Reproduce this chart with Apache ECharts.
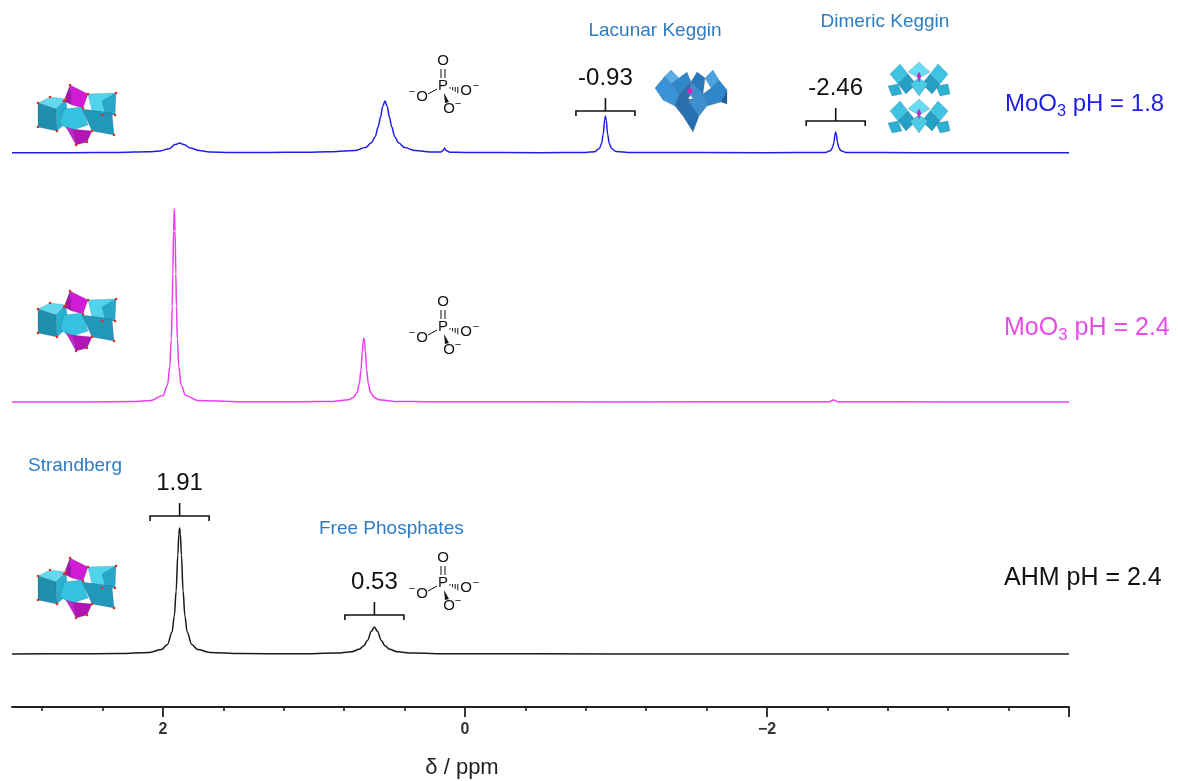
<!DOCTYPE html>
<html lang="en">
<head>
<meta charset="UTF-8">
<title>31P NMR</title>
<script src="https://cdn.jsdelivr.net/npm/echarts@6/dist/echarts.min.js"></script>
<style>html,body{margin:0;padding:0;background:#fff;}</style>
</head>
<body>
<div id="nmr" style="width:1178px;height:781px;"></div>
<script type="text/javascript">

// MoO3 pH 1.8 (top trace) : shift / intensity
var moo18Ppm = [3.0, 2.6, 2.3, 2.1, 2.02, 1.96, 1.92, 1.89, 1.86, 1.82, 1.76, 1.69, 1.55, 1.3, 1.05,
    0.9, 0.8, 0.73, 0.66, 0.62, 0.595, 0.575, 0.56, 0.545, 0.53, 0.515, 0.5, 0.485, 0.465, 0.44, 0.4, 0.33, 0.23,
    0.16, 0.145, 0.135, 0.125, 0.1, 0.0, -0.5,
    -0.8, -0.86, -0.89, -0.905, -0.915, -0.925, -0.93, -0.935, -0.945, -0.955, -0.97, -1.0, -1.1,
    -2.0, -2.385, -2.42, -2.435, -2.443, -2.451, -2.455, -2.459, -2.467, -2.475, -2.49, -2.525, -3.0, -4.0];
var moo18Int = [0.2, 0.3, 0.6, 1.2, 2.0, 4.2, 8.4, 10, 8.4, 5, 2.5, 1.1, 0.6, 0.6, 0.8,
    1.2, 1.9, 2.4, 5.4, 10.2, 16.3, 26, 35.5, 46.6, 52, 46.6, 35.5, 26, 16.3, 10.2, 5.4, 2.4, 1.1,
    0.9, 2.5, 5, 2.5, 0.8, 0.5, 0.3,
    0.6, 1.3, 4.5, 9.8, 18.5, 33, 37, 33, 18.5, 9.8, 4.5, 1.6, 0.5,
    0.3, 0.6, 2.2, 5.6, 10.5, 19, 21, 19, 10.5, 5.6, 2.2, 0.6, 0.3, 0.2];

// MoO3 pH 2.4 (middle trace)
var moo24Ppm = [3.0, 2.5, 2.2, 2.08, 2.0, 1.97, 1.955, 1.945, 1.939, 1.935, 1.93, 1.925, 1.92, 1.915, 1.911,
    1.905, 1.895, 1.88, 1.85, 1.77, 1.5, 1.1, 0.87, 0.77, 0.74, 0.715, 0.7, 0.689, 0.68, 0.675, 0.67, 0.665,
    0.66, 0.651, 0.64, 0.625, 0.6, 0.57, 0.47, 0.2, -1.0, -2.41, -2.44, -2.47, -3.2, -4.0];
var moo24Int = [0, 0.1, 0.5, 1.6, 6.5, 17, 35, 63, 96, 128, 171, 193, 171, 128, 96,
    63, 35, 17, 6.5, 1.6, 0.3, 0.3, 0.6, 2.2, 4.4, 9.3, 18, 32, 50, 60, 64, 60,
    50, 32, 18, 9.3, 4.4, 2.2, 0.6, 0.2, 0.1, 0.2, 2.0, 0.2, 0.1, 0];

// AHM pH 2.4 (bottom trace)
var ahmPpm = [3.0, 2.6, 2.29, 2.09, 2.01, 1.97, 1.94, 1.925, 1.913, 1.902, 1.895, 1.89, 1.885, 1.878, 1.867,
    1.855, 1.84, 1.81, 1.77, 1.69, 1.49, 1.1, 0.85, 0.75, 0.70, 0.67, 0.646, 0.62, 0.60, 0.58, 0.554, 0.53,
    0.50, 0.45, 0.35, 0.1, -1.0, -4.0];
var ahmInt = [0.1, 0.2, 0.4, 1.6, 4.5, 9.6, 22, 38, 63, 99, 120, 126, 120, 99, 63,
    38, 22, 9.6, 4.5, 1.6, 0.4, 0.3, 0.9, 2.3, 4.7, 8.2, 13.5, 22.7, 27, 22.7, 13.5, 8.2,
    4.7, 2.3, 0.9, 0.2, 0.1, 0];

var traceNames = ['MoO3 pH = 1.8', 'MoO3 pH = 2.4', 'AHM pH = 2.4'];
var traceColors = ['#1e1ee8', '#f03cf0', '#1a1a1a'];
var traceOffsets = [554, 305, 53];

var majorTicks = [-4, -2, 0, 2];
var minorTicks = [-3.6, -3.2, -2.8, -2.4, -1.6, -1.2, -0.8, -0.4, 0.4, 0.8, 1.2, 1.6, 2.4, 2.8];
var tickLabels = [-2, 0, 2];

// peak brackets
var bracketPpm = [1.89, 0.60, -0.93, -2.455];
var bracketText = ['1.91', '0.53', '-0.93', '-2.46'];
var bracketLevel = [191, 92, 596, 586];

var annoColor = '#2e7cc2';
var fontSans = '"Liberation Sans", Arial, sans-serif';

function pairs(ppm, inten, off) {
    var out = [];
    for (var i = 0; i < ppm.length; i++) {
        out.push([ppm[i], inten[i] + off]);
    }
    return out;
}

var traces = [pairs(moo18Ppm, moo18Int, traceOffsets[0]),
              pairs(moo24Ppm, moo24Int, traceOffsets[1]),
              pairs(ahmPpm, ahmInt, traceOffsets[2])];

var chart = echarts.init(document.getElementById('nmr'));

var series = [];
for (var s = 0; s < traces.length; s++) {
    series.push({
        name: traceNames[s],
        type: 'line',
        data: traces[s],
        showSymbol: false,
        smooth: 0.35,
        smoothMonotone: 'x',
        silent: true,
        animation: false,
        lineStyle: { color: traceColors[s], width: 1.5 }
    });
}

chart.setOption({
    animation: false,
    grid: { left: 12, right: 109, top: 7, bottom: 74 },
    xAxis: [{
        type: 'value', min: -4, max: 3, inverse: true, position: 'bottom',
        axisLine: { lineStyle: { color: '#222', width: 1.8 } },
        axisTick: { length: 10, customValues: majorTicks, lineStyle: { color: '#222', width: 1.8 } },
        axisLabel: {
            customValues: tickLabels, margin: 15, color: '#333',
            fontSize: 16, fontWeight: 'bold', fontFamily: '"Liberation Sans Narrow", "Liberation Sans", sans-serif',
            formatter: function (v) { return v < 0 ? '\u2212' + Math.abs(v) : String(v); }
        },
        splitLine: { show: false }
    }, {
        type: 'value', min: -4, max: 3, inverse: true, position: 'bottom',
        axisLine: { show: false },
        axisTick: { length: 4, customValues: minorTicks, lineStyle: { color: '#222', width: 1.6 } },
        axisLabel: { show: false },
        splitLine: { show: false }
    }],
    yAxis: { type: 'value', min: 0, max: 700, show: false },
    series: series
});

// ---- decorations ----
var measureCtx = document.createElement('canvas').getContext('2d');
function textW(str, size) {
    measureCtx.font = size + 'px "Liberation Sans"';
    return measureCtx.measureText(str).width;
}

function txt(str, x, y, size, color, align) {
    return {
        type: 'text', x: x, y: y, silent: true,
        style: { text: str, fill: color, fontSize: size, fontFamily: fontSans,
                 align: align || 'center', verticalAlign: 'middle' }
    };
}

// label with MoO3 subscript
function moLabel(rest, x, y, color, size) {
    var w1 = textW('MoO', size);
    var w2 = textW('3', size * 0.68);
    return { type: 'group', silent: true, children: [
        txt('MoO', x, y, size, color, 'left'),
        txt('3', x + w1, y + 7, size * 0.68, color, 'left'),
        txt(rest, x + w1 + w2, y, size, color, 'left')
    ] };
}

function phosphate(px, py) {
    var c = '#111';
    var f = 15;
    var kids = [
        txt('O', px, py - 25, f, c), txt('P', px, py, f, c),
        txt('O', px - 21, py + 11, f, c), txt('O', px + 23, py + 5, f, c),
        txt('O', px + 6, py + 23, f, c),
        txt('\u2212', px - 31, py + 6, 11, c), txt('\u2212', px + 33, py, 11, c),
        txt('\u2212', px + 15, py + 18, 11, c),
        { type: 'line', shape: { x1: px - 2, y1: py - 17, x2: px - 2, y2: py - 8 }, style: { stroke: c, lineWidth: 1 } },
        { type: 'line', shape: { x1: px + 2, y1: py - 17, x2: px + 2, y2: py - 8 }, style: { stroke: c, lineWidth: 1 } },
        { type: 'line', shape: { x1: px - 15, y1: py + 8, x2: px - 6, y2: py + 3 }, style: { stroke: c, lineWidth: 1 } },
        { type: 'polygon', shape: { points: [[px + 1, py + 7], [px + 2, py + 17], [px + 6, py + 16]] }, style: { fill: c } }
    ];
    for (var k = 0; k < 4; k++) {
        var hx = px + 7 + k * 2.6, hy = py + 2 + k * 0.7, hl = 0.8 + k * 0.8;
        kids.push({ type: 'line', shape: { x1: hx, y1: hy - hl, x2: hx, y2: hy + hl }, style: { stroke: c, lineWidth: 1 } });
    }
    return { type: 'group', silent: true, children: kids };
}

var strandPolys = [
    [[[2, 18], [14, 12], [30, 14], [20, 24]], '#62d9ef'],
    [[[2, 18], [20, 24], [21, 46], [2, 42]], '#1f8fae'],
    [[[20, 24], [30, 14], [32, 36], [21, 46]], '#2ab0cf'],
    [[[34, 0], [52, 9], [47, 23], [36, 20]], '#d31bd6'],
    [[[34, 0], [36, 20], [28, 16]], '#a812b0'],
    [[[52, 9], [80, 8], [70, 30], [56, 26]], '#50d4ec'],
    [[[66, 16], [80, 8], [79, 30], [70, 30]], '#2aa6c6'],
    [[[28, 24], [46, 22], [52, 40], [34, 46], [24, 38]], '#35c2e0'],
    [[[46, 24], [76, 28], [78, 50], [56, 46]], '#2197ba'],
    [[[36, 44], [56, 46], [51, 57], [40, 60]], '#b315b5'],
    [[[30, 42], [36, 44], [40, 60]], '#d020d0']
];
var strandDots = [[2, 18], [2, 42], [21, 46], [34, 0], [52, 9], [80, 8], [79, 30], [78, 50], [56, 46],
    [40, 60], [30, 14], [14, 12], [66, 30], [47, 23], [28, 16], [51, 57]];

var lacunarPolys = [
    [[[0, 18], [10, 6], [16, 14], [24, 24], [20, 36], [8, 30]], '#3a93d6'],
    [[[10, 6], [16, 0], [24, 8], [16, 14]], '#5aaee6'],
    [[[24, 8], [32, 2], [36, 12], [24, 24], [16, 14]], '#2f86c8'],
    [[[36, 12], [42, 2], [50, 8], [48, 24]], '#2a78bb'],
    [[[50, 8], [58, 0], [64, 10], [56, 18]], '#4aa3e0'],
    [[[56, 18], [64, 10], [72, 20], [66, 32], [52, 36], [48, 24]], '#2f86c8'],
    [[[66, 32], [72, 20], [72, 34]], '#1f5f9a'],
    [[[20, 36], [24, 24], [36, 12], [34, 32], [28, 46]], '#2a6fae'],
    [[[34, 32], [36, 12], [48, 24], [52, 36], [44, 46]], '#3d8fd0'],
    [[[28, 46], [34, 32], [44, 46], [38, 62]], '#2470b0'],
    [[[33, 29], [38, 29], [35.5, 25]], '#ffffff']
];

function kegginUnit(y0) {
    return [
        [[[2, y0 + 12], [12, y0 + 2], [20, y0 + 12], [10, y0 + 22]], '#3fc3e2'],
        [[[20, y0 + 10], [31, y0 + 0], [42, y0 + 10], [31, y0 + 16]], '#6adcf1'],
        [[[42, y0 + 12], [50, y0 + 2], [60, y0 + 12], [52, y0 + 22]], '#3fc3e2'],
        [[[10, y0 + 22], [20, y0 + 12], [28, y0 + 22], [18, y0 + 32]], '#259fc4'],
        [[[34, y0 + 22], [42, y0 + 12], [52, y0 + 22], [44, y0 + 32]], '#259fc4'],
        [[[22, y0 + 22], [31, y0 + 16], [40, y0 + 22], [31, y0 + 34]], '#4ccbe6'],
        [[[0, y0 + 24], [10, y0 + 22], [14, y0 + 32], [4, y0 + 34]], '#2bb0d2'],
        [[[48, y0 + 24], [60, y0 + 22], [62, y0 + 32], [52, y0 + 34]], '#2bb0d2'],
        [[[29, y0 + 14], [31, y0 + 10], [33, y0 + 14], [31, y0 + 20]], '#d81fd8']
    ];
}
var dimericPolys = kegginUnit(0).concat(kegginUnit(37));

function cluster(x, y, polys, dots) {
    var kids = [];
    for (var i = 0; i < polys.length; i++) {
        kids.push({ type: 'polygon', shape: { points: polys[i][0] },
            style: { fill: polys[i][1], stroke: 'rgba(20,60,90,0.35)', lineWidth: 0.5 } });
    }
    for (var j = 0; j < (dots || []).length; j++) {
        kids.push({ type: 'circle', shape: { cx: dots[j][0], cy: dots[j][1], r: 1.3 }, style: { fill: '#e03020' } });
    }
    return { type: 'group', x: x, y: y, silent: true, children: kids };
}

function buildGraphics() {
    var g = [];
    // brackets on the peaks, placed through the axes
    for (var i = 0; i < bracketPpm.length; i++) {
        var p = chart.convertToPixel({ xAxisIndex: 0, yAxisIndex: 0 }, [bracketPpm[i], bracketLevel[i]]);
        var x = p[0], y = p[1], hw = 29.5;
        g.push({ type: 'polyline', silent: true,
            shape: { points: [[x - hw, y + 5], [x - hw, y], [x + hw, y], [x + hw, y + 5]] },
            style: { stroke: '#111', lineWidth: 1.6, fill: null } });
        g.push({ type: 'line', silent: true, shape: { x1: x, y1: y, x2: x, y2: y - 13 },
            style: { stroke: '#111', lineWidth: 1.6 } });
        g.push(txt(bracketText[i], x, y - 33, 24, '#111'));
    }
    // series labels
    g.push(moLabel(' pH = 1.8', 1005, 104, traceColors[0], 24));
    g.push(moLabel(' pH = 2.4', 1004, 328, '#e84ce8', 25));
    g.push(txt(traceNames[2], 1004, 578, 25, '#111', 'left'));
    // annotation words
    g.push(txt('Lacunar Keggin', 655, 31, 19, annoColor));
    g.push(txt('Dimeric Keggin', 885, 22, 19, annoColor));
    g.push(txt('Strandberg', 28, 466, 19, annoColor, 'left'));
    g.push(txt('Free Phosphates', 319, 529, 19, annoColor, 'left'));
    // axis title
    g.push(txt('\u03b4 / ppm', 462, 768, 22, '#222'));
    // phosphate sketches
    g.push(phosphate(443, 86));
    g.push(phosphate(443, 327));
    g.push(phosphate(443, 583));
    // polyoxometalate sketches
    g.push(cluster(36, 85, strandPolys, strandDots));
    g.push(cluster(36, 291, strandPolys, strandDots));
    g.push(cluster(36, 558, strandPolys, strandDots));
    g.push(cluster(655, 70, lacunarPolys, null));
    g.push({ type: 'circle', silent: true, shape: { cx: 690, cy: 91, r: 2.5 }, style: { fill: '#e020c0' } });
    g.push(cluster(888, 62, dimericPolys, null));
    return g;
}

chart.setOption({ graphic: buildGraphics() });

</script>
</body>
</html>
